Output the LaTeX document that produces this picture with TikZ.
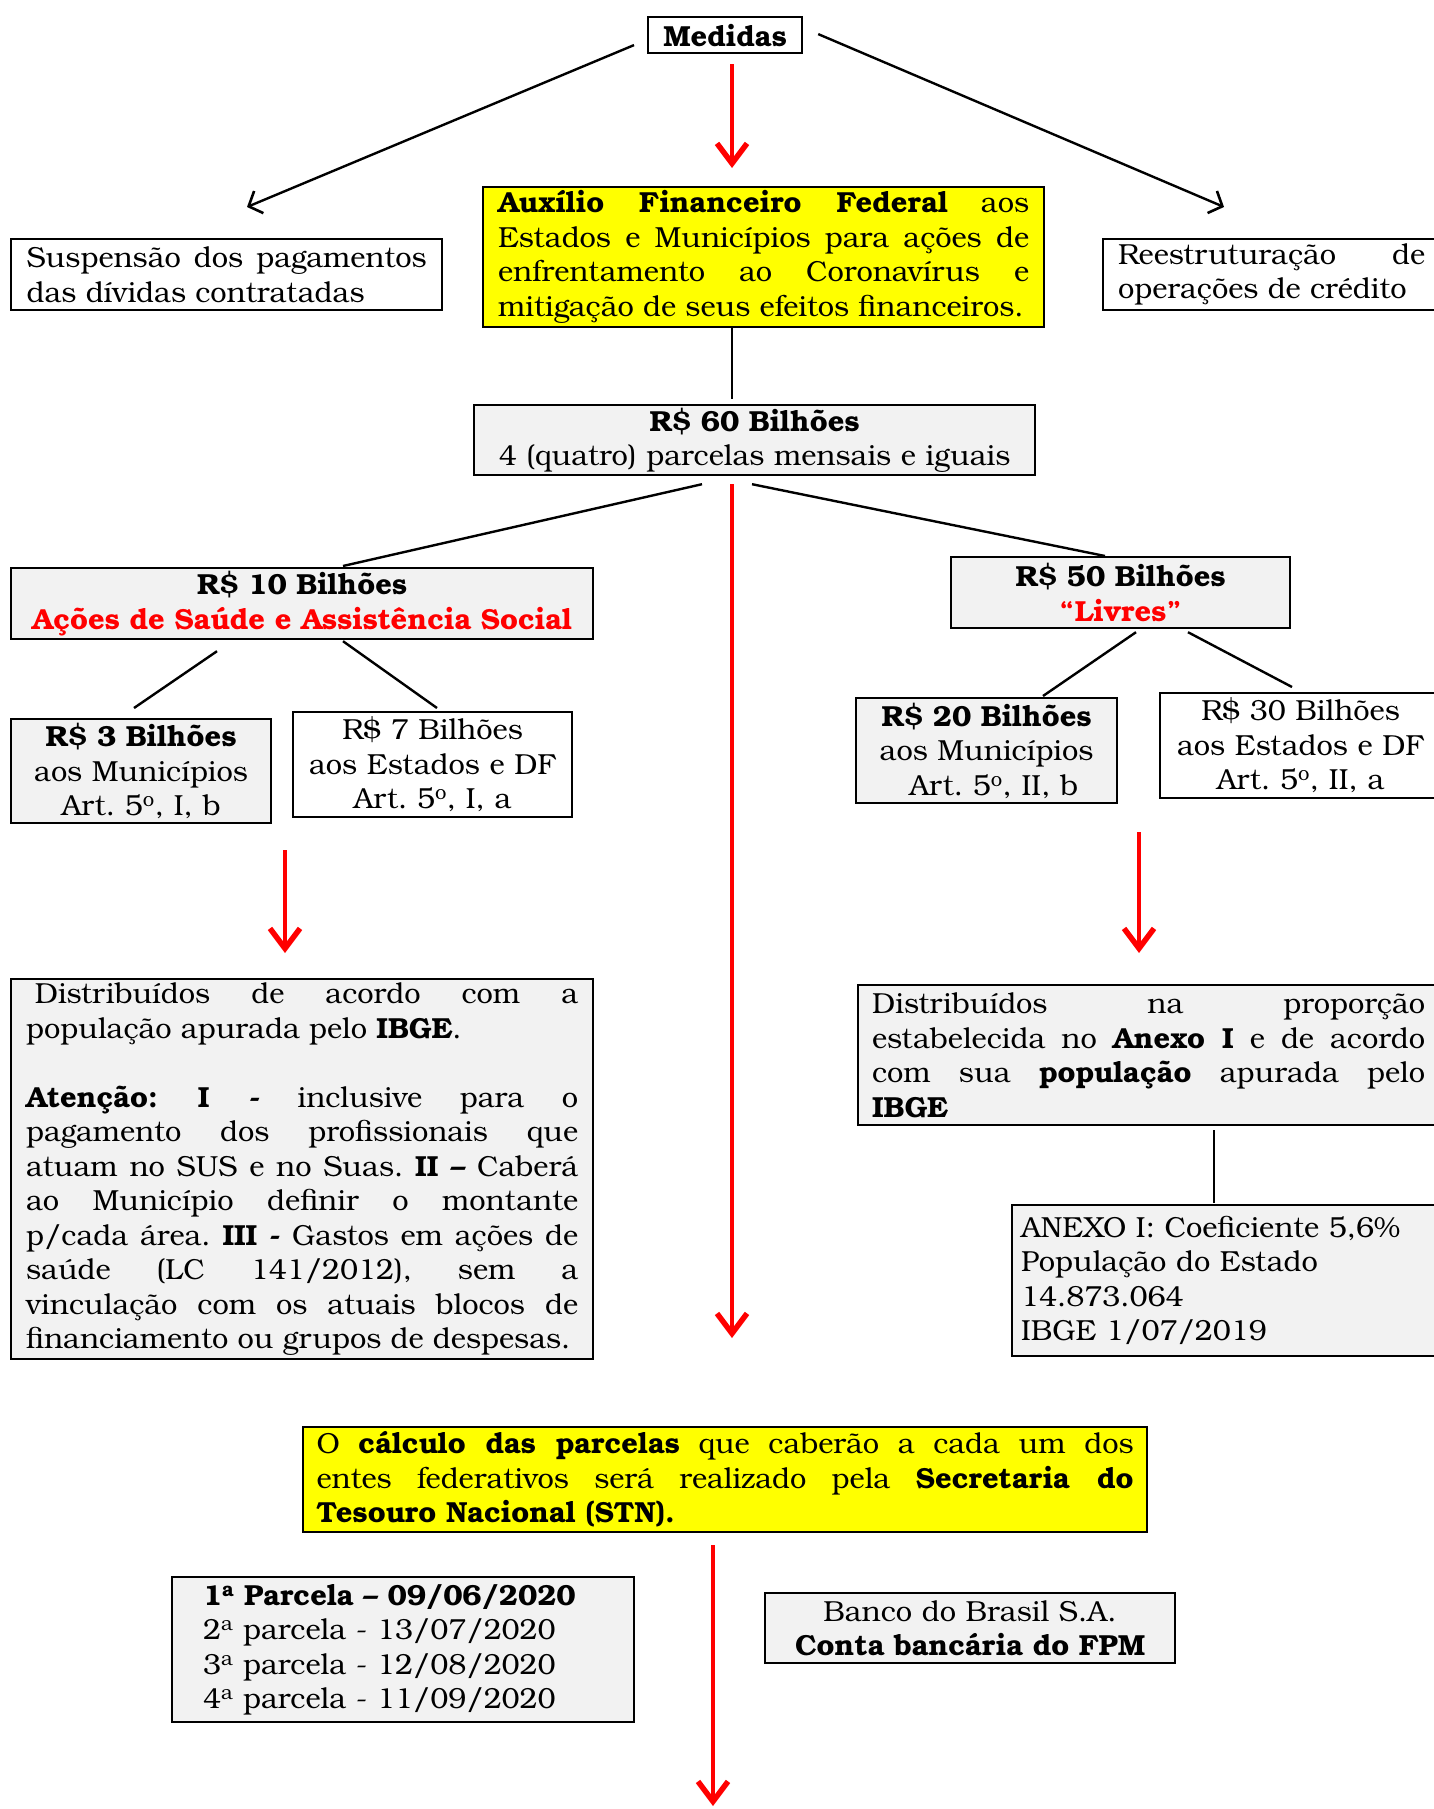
\documentclass[tikz,border=0pt]{standalone}
\usepackage{fontspec}
\setmainfont{TeX Gyre Bonum}
\usetikzlibrary{arrows.meta,calc}
\definecolor{boxgray}{HTML}{F2F2F2}
\definecolor{hlyellow}{HTML}{FFFF00}
\definecolor{pred}{HTML}{FF0000}
\newcommand{\ordo}{\textsuperscript{o}}
\newcommand{\orda}{\textsuperscript{a}}
\tikzset{
  box/.style={draw=black, line width=2.2pt, inner sep=0pt, anchor=north west,
    font=\fontsize{29}{34.5}\selectfont\frenchspacing},
  graybox/.style={box, fill=boxgray},
  yellowbox/.style={box, fill=hlyellow},
  whitebox/.style={box, fill=white},
  jus/.style={align=justify},
  conn/.style={draw=black, line width=2.4pt},
  blackarrow/.style={conn, -{Straight Barb[length=11pt,width=24pt,line width=2.6pt]}},
  redarrow/.style={draw=pred, line width=4.5pt, -{Straight Barb[length=20pt,width=30pt,line width=5.5pt]}},
}
\begin{document}
\begin{tikzpicture}[x=1pt,y=-1pt]
\useasboundingbox (0,0) rectangle (1434,1809);
\fill[white] (0,0) rectangle (1434,1809);

% boxes
\node[whitebox, minimum width=154pt, minimum height=36pt, text width=150pt, align=center] (medidas) at (647,16) {\textbf{Medidas}};

\node[yellowbox, minimum width=561pt, minimum height=140pt, text width=531pt, jus] (aux) at (482,186)
 {\textbf{Auxílio Financeiro Federal} aos\linebreak Estados e Municípios para ações de\linebreak enfrentamento ao Coronavírus e\linebreak mitigação de seus efeitos financeiros.};

\node[whitebox, minimum width=431pt, minimum height=71pt, text width=400pt, jus] (susp) at (10,238)
 {Suspensão dos pagamentos\linebreak das dívidas contratadas};

\node[whitebox, minimum width=337pt, minimum height=71pt, text width=307pt, jus] (reest) at (1102,238)
 {Reestruturação de\linebreak operações de crédito};

\node[graybox, minimum width=561pt, minimum height=70pt, text width=545pt, align=center] (b60) at (473,404)
 {\textbf{R\$ 60 Bilhões}\\4 (quatro) parcelas mensais e iguais};

\node[graybox, minimum width=582pt, minimum height=71pt, text width=575pt, align=center] (b10) at (10,567)
 {\textbf{R\$ 10 Bilhões}\\\textcolor{pred}{\textbf{Ações de Saúde e Assistência Social}}};

\node[graybox, minimum width=339pt, minimum height=71pt, text width=325pt, align=center] (b50) at (950,556)
 {\textbf{R\$ 50 Bilhões}\\\textcolor{pred}{\textbf{“Livres”}}};

\node[graybox, minimum width=260pt, minimum height=104pt, text width=252pt, align=center] (b3) at (10,718)
 {\textbf{R\$ 3 Bilhões}\\aos Municípios\\Art. 5\ordo, I, b};

\node[whitebox, minimum width=279pt, minimum height=105pt, text width=270pt, align=center] (b7) at (292,711)
 {R\$ 7 Bilhões\\aos Estados e DF\\Art. 5\ordo, I, a};

\node[graybox, minimum width=261pt, minimum height=105pt, text width=255pt, align=center] (b20) at (855,697)
 {\textbf{R\$ 20 Bilhões}\\aos Municípios\\\hspace*{0.5em}Art. 5\ordo, II, b};

\node[whitebox, minimum width=281pt, minimum height=105pt, text width=272pt, align=center] (b30) at (1159,692)
 {R\$ 30 Bilhões\\aos Estados e DF\\Art. 5\ordo, II, a};

\node[graybox, minimum width=582pt, minimum height=380pt, text width=552pt, jus] (distL) at (10,978)
 {\hspace*{0.3em}Distribuídos de acordo com a\linebreak população apurada pelo \textbf{IBGE}.\par\vspace{34.5pt}%
 \textbf{Atenção: I -} inclusive para o\linebreak pagamento dos profissionais que\linebreak atuam no SUS e no Suas. \textbf{II –} Caberá\linebreak ao Município definir o montante\linebreak p/cada área. \textbf{III -} Gastos em ações de\linebreak saúde (LC 141/2012), sem a\linebreak vinculação com os atuais blocos de\linebreak financiamento ou grupos de despesas.};

\node[graybox, minimum width=581pt, minimum height=140pt, text width=553pt, jus] (distR) at (857,984)
 {Distribuídos na proporção\linebreak estabelecida no \textbf{Anexo I} e de acordo\linebreak com sua \textbf{população} apurada pelo\linebreak \textbf{IBGE}};

\node[graybox, minimum width=429pt, minimum height=151pt, text width=411pt, align=left] (anexo) at (1011,1204)
 {ANEXO I: Coeficiente 5,6\%\\População do Estado\\14.873.064\\IBGE 1/07/2019};

\node[yellowbox, minimum width=844pt, minimum height=105pt, text width=817pt, jus] (stn) at (302,1426)
 {O \textbf{cálculo das parcelas} que caberão a cada um dos\linebreak entes federativos será realizado pela \textbf{Secretaria do}\linebreak \textbf{Tesouro Nacional (STN).}};

\node[graybox, minimum width=462pt, minimum height=145pt, text width=400pt, align=left] (parc) at (171,1576)
 {\textbf{1\orda{} Parcela – 09/06/2020}\\2\orda{} parcela - 13/07/2020\\3\orda{} parcela - 12/08/2020\\4\orda{} parcela - 11/09/2020};

\node[graybox, minimum width=410pt, minimum height=70pt, text width=400pt, align=center] (banco) at (764,1592)
 {Banco do Brasil S.A.\\\textbf{Conta bancária do FPM}};

% helper coordinates
\coordinate (cx) at (732,0);
\coordinate (bottomend) at (713,1806);

% connectors
\draw[redarrow, shorten <=10pt, shorten >=18pt] (medidas.south -| cx) -- (aux.north -| cx);
\draw[blackarrow] ($(medidas.west)+(-13,10)$) -- ($(susp.north west)+(237,-31)$);
\draw[blackarrow] ($(medidas.east)+(15,-1)$) -- ($(reest.north west)+(122,-31)$);
\draw[conn, shorten >=5pt] (aux.south -| cx) -- (b60.north -| cx);
\draw[redarrow, shorten <=8pt, shorten >=88pt] (b60.south -| cx) -- (stn.north -| cx);
\draw[conn] ($(b60.south west)+(229,8)$) -- ($(b10.north west)+(333,-1)$);
\draw[conn] ($(b60.south west)+(279,8)$) -- ($(b50.north west)+(155,0)$);
\draw[conn] ($(b10.south west)+(207,11)$) -- ($(b3.north west)+(124,-10)$);
\draw[conn] ($(b10.south west)+(333,1)$) -- ($(b7.north west)+(145,-3)$);
\draw[conn] ($(b50.south west)+(186,3)$) -- ($(b20.north west)+(188,-1)$);
\draw[conn] ($(b50.south west)+(238,3)$) -- ($(b30.north west)+(133,-5)$);
\draw[redarrow] ($(b3.south west)+(275,26)$) -- ($(distL.north west)+(275,-25)$);
\draw[redarrow] ($(b20.south west)+(284,28)$) -- ($(distR.north west)+(282,-31)$);
\draw[conn] ($(distR.south west)+(357,4)$) -- ($(anexo.north west)+(203,-1)$);
\draw[redarrow] ($(stn.south west)+(411,12)$) -- (bottomend);
\end{tikzpicture}
\end{document}
